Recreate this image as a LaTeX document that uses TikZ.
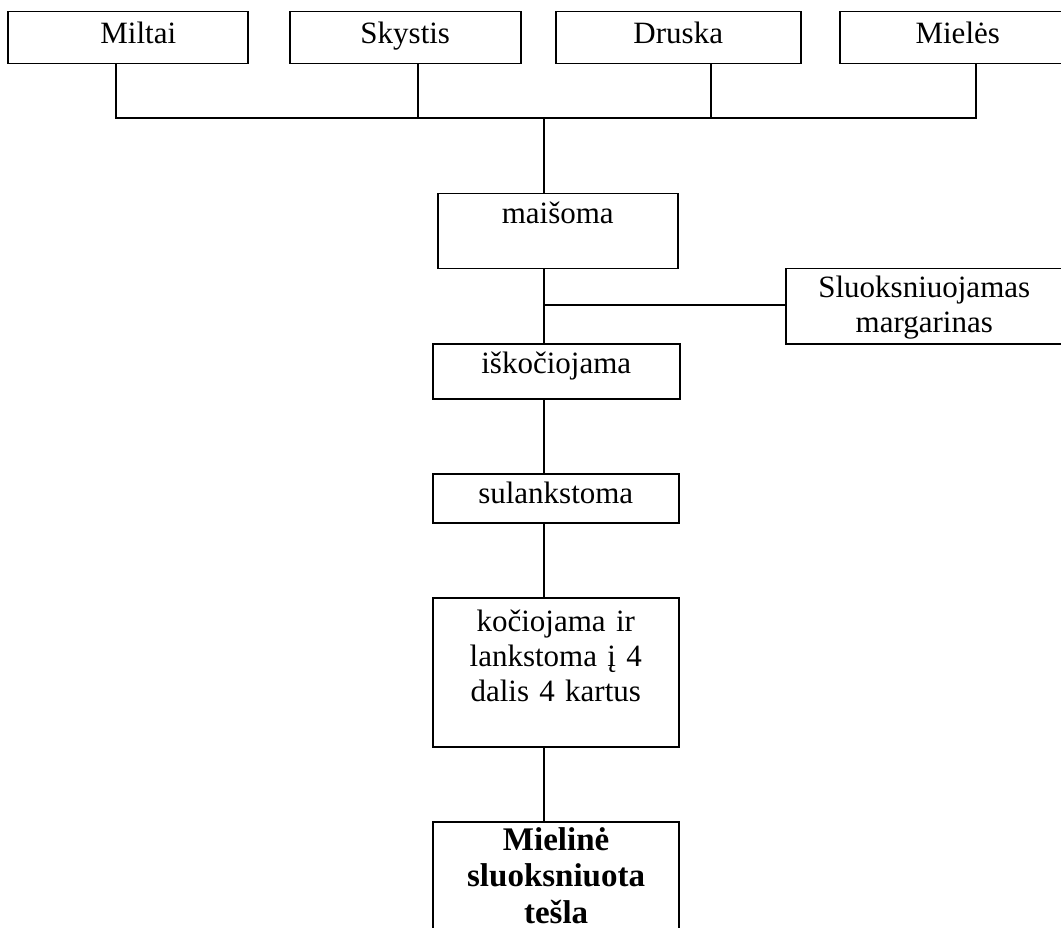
\documentclass[tikz,border=0pt]{standalone}
\usepackage{fontspec}
\setmainfont{Liberation Serif}
\begin{document}
\begin{tikzpicture}[x=1pt,y=-1pt,
  % a box is placed by its top-left corner; #1 = width,
  % #2 = top edge to first baseline, #3 = first baseline to bottom edge
  stepbox/.style n args={3}{draw, line width=1.5pt, rectangle, inner sep=0pt,
    anchor=north west, align=center, text width=#1, text height=#2, text depth=#3,
    font=\fontsize{31}{35}\selectfont},
  finalbox/.style n args={3}{stepbox={#1}{#2}{#3}, line width=2.2pt,
    font=\fontsize{33}{36.5}\selectfont\bfseries},
  link/.style={line width=1.3pt}]
\clip (0,0) rectangle (1061,928);

% ingredients
\node[stepbox={240pt}{32pt}{20pt}] (miltai)  at (7,11)   {\hspace*{21pt}Miltai};
\node[stepbox={231pt}{32pt}{20pt}] (skystis) at (289,11) {Skystis};
\node[stepbox={245pt}{32pt}{20pt}] (druska)  at (555,11) {Druska};
\node[stepbox={236pt}{32pt}{20pt}] (mieles)  at (839,11) {Mielės};

% process steps
\node[stepbox={240pt}{30pt}{45pt}]  (mix)   at (437,193) {maišoma};
\node[stepbox={277pt}{29pt}{46pt}]  (marg)  at (785,268) {Sluoksniuojamas\\margarinas};
\node[stepbox={247pt}{30pt}{25pt}]  (roll)  at (432,343) {iškočiojama};
\node[stepbox={246pt}{30pt}{19pt}]  (fold)  at (432,473) {sulankstoma};
\node[stepbox={246pt}{34pt}{115pt}] (rep)   at (432,597) {kočiojama ir\\lankstoma į 4\\dalis 4 kartus};
\node[finalbox={246pt}{28pt}{86pt}] (dough) at (432,821) {Mielinė\\sluoksniuota\\tešla};

% collecting bus under the ingredients
\coordinate (dA) at (116,118);
\coordinate (dB) at (418,118);
\coordinate (dC) at (711,118);
\coordinate (dD) at (976,118);
\coordinate (spine) at (544,118);
\coordinate (join) at (544,305);

\draw[link] (miltai.south -| dA) -- (dA) -- (dD) -- (mieles.south -| dD);
\draw[link] (skystis.south -| dB) -- (dB);
\draw[link] (druska.south -| dC) -- (dC);

% main line through the steps
\draw[link] (spine) -- (spine |- mix.north);
\draw[link] (mix.south -| spine) -- (roll.north -| spine);
\draw[link] (join) -- (marg.west |- join);
\draw[link] (roll.south -| spine) -- (fold.north -| spine);
\draw[link] (fold.south -| spine) -- (rep.north -| spine);
\draw[link] (rep.south -| spine) -- (dough.north -| spine);
\end{tikzpicture}
\end{document}
